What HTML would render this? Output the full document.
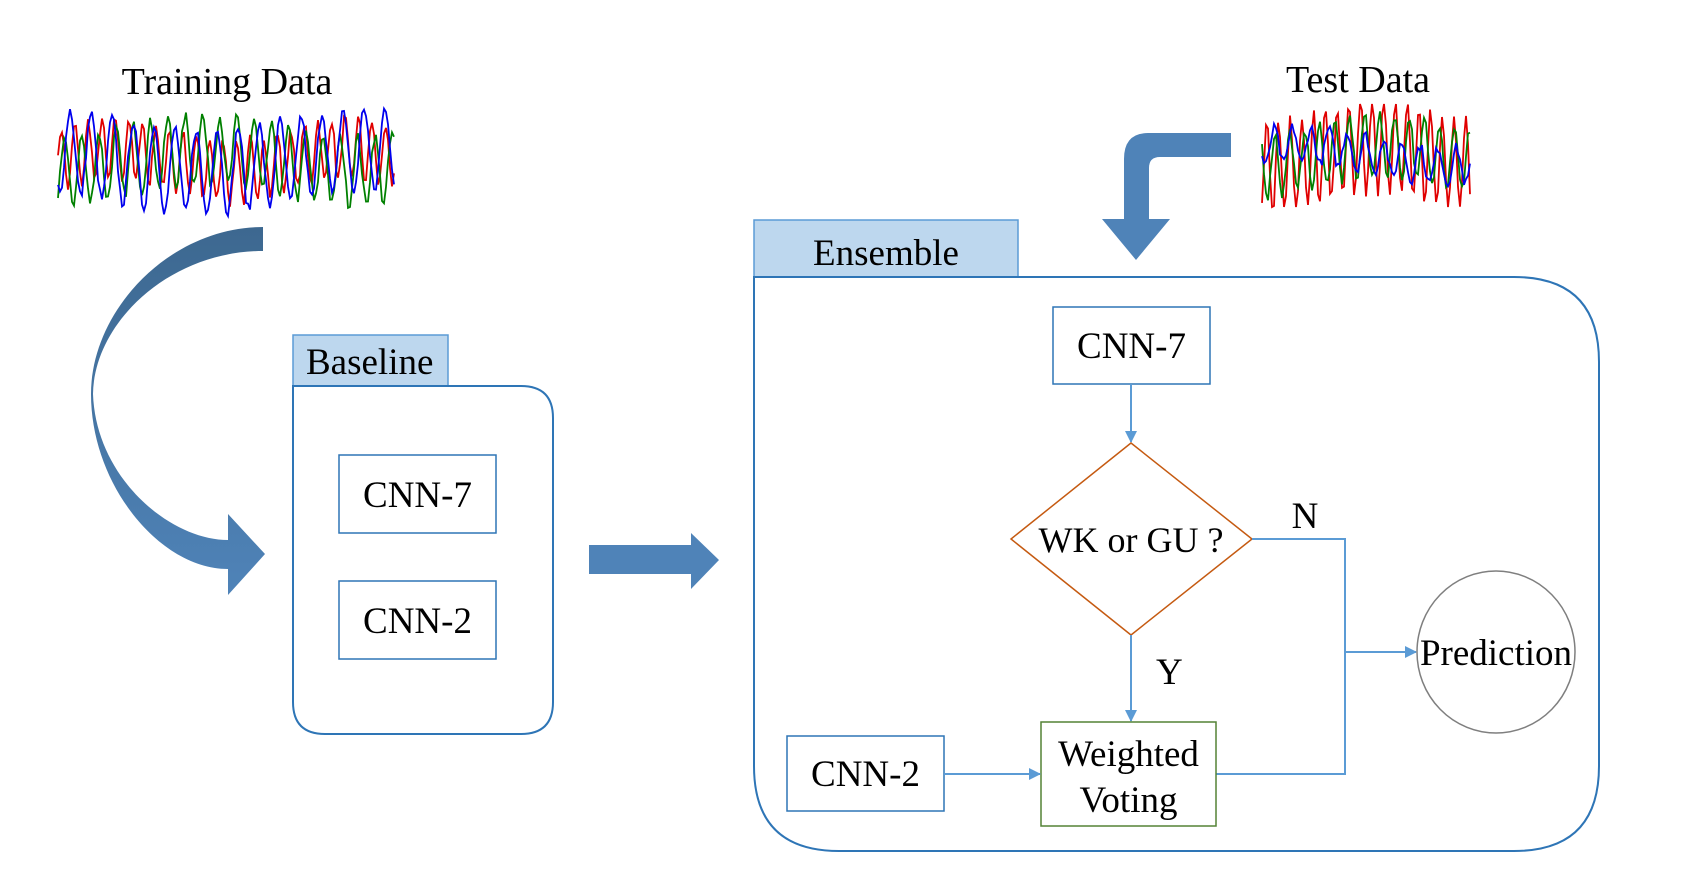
<!DOCTYPE html>
<html><head><meta charset="utf-8"><style>
html,body{margin:0;padding:0;background:#fff;}
svg{display:block;}
text{font-family:"Liberation Serif",serif;fill:#000;}
</style></head><body>
<svg width="1692" height="896" viewBox="0 0 1692 896" xmlns="http://www.w3.org/2000/svg">
<defs>
<linearGradient id="g1" x1="0" y1="0" x2="0" y2="1">
<stop offset="0" stop-color="#3d6890"/><stop offset="1" stop-color="#4f83b8"/>
</linearGradient>
<marker id="ah" markerWidth="12" markerHeight="12" refX="11" refY="6" orient="auto" markerUnits="userSpaceOnUse">
<path d="M0,0 L12,6 L0,12 Z" fill="#5b9bd5"/>
</marker>
</defs>

<text x="227" y="94" font-size="38" text-anchor="middle">Training Data</text>
<g id="sigA"></g>
<text x="1358" y="92" font-size="38" text-anchor="middle">Test Data</text>
<g id="sigB"></g>

<path d="M263,227 C170,227 91,310 91,394 C91,485 160,569 228,569 L228,595 L265,554 L228,514 L228,540 C170,540 96,478 93,394 C94,322 170,251 263,251 Z" fill="url(#g1)"/>

<rect x="293" y="335" width="155" height="51" fill="#bdd7ee" stroke="#5b9bd5" stroke-width="1.5"/>
<text x="306" y="374" font-size="37">Baseline</text>
<path d="M293,386 H521 Q553,386 553,418 V702 Q553,734 521,734 H325 Q293,734 293,702 Z" fill="none" stroke="#2e75b6" stroke-width="2"/>
<rect x="339" y="455" width="157" height="78" fill="#fff" stroke="#2e75b6" stroke-width="1.5"/>
<text x="417.5" y="507" font-size="37" text-anchor="middle">CNN-7</text>
<rect x="339" y="581" width="157" height="78" fill="#fff" stroke="#2e75b6" stroke-width="1.5"/>
<text x="417.5" y="633" font-size="37" text-anchor="middle">CNN-2</text>

<path d="M589,545 H691 V533 L719,560 L691,589 V574 H589 Z" fill="#4f83b8"/>

<rect x="754" y="220" width="264" height="57" fill="#bdd7ee" stroke="#5b9bd5" stroke-width="1.5"/>
<text x="886" y="265" font-size="37" text-anchor="middle">Ensemble</text>
<path d="M754,277 H1514 Q1599,277 1599,362 V766 Q1599,851 1514,851 H839 Q754,851 754,766 Z" fill="none" stroke="#2e75b6" stroke-width="2"/>

<path d="M1231,133 V157 H1160 Q1149,157 1149,168 V219 H1170 L1136,260 L1102,219 H1124 V159 Q1124,133 1148,133 Z" fill="#4f83b8"/>

<rect x="1053" y="307" width="157" height="77" fill="#fff" stroke="#2e75b6" stroke-width="1.5"/>
<text x="1131.5" y="358" font-size="37" text-anchor="middle">CNN-7</text>
<line x1="1131" y1="384" x2="1131" y2="442" stroke="#5b9bd5" stroke-width="2" marker-end="url(#ah)"/>
<path d="M1131,443 L1252,539 L1131,635 L1011,539 Z" fill="#fff" stroke="#c55a11" stroke-width="1.5"/>
<text x="1131" y="552" font-size="36" text-anchor="middle">WK or GU ?</text>
<line x1="1131" y1="635" x2="1131" y2="721" stroke="#5b9bd5" stroke-width="2" marker-end="url(#ah)"/>
<text x="1156" y="684" font-size="37">Y</text>
<polyline points="1252,539 1345,539 1345,774 1216,774" fill="none" stroke="#5b9bd5" stroke-width="2"/>
<text x="1305" y="528" font-size="37" text-anchor="middle">N</text>
<line x1="1345" y1="652" x2="1416" y2="652" stroke="#5b9bd5" stroke-width="2" marker-end="url(#ah)"/>
<ellipse cx="1496" cy="652" rx="79" ry="81" fill="#fff" stroke="#7f7f7f" stroke-width="1.5"/>
<text x="1496" y="665" font-size="37" text-anchor="middle">Prediction</text>
<rect x="1041" y="722" width="175" height="104" fill="#fff" stroke="#548235" stroke-width="1.5"/>
<text x="1128.5" y="766" font-size="37" text-anchor="middle">Weighted</text>
<text x="1128.5" y="812" font-size="37" text-anchor="middle">Voting</text>
<rect x="787" y="736" width="157" height="75" fill="#fff" stroke="#2e75b6" stroke-width="1.5"/>
<text x="865.5" y="786" font-size="37" text-anchor="middle">CNN-2</text>
<line x1="944" y1="774" x2="1040" y2="774" stroke="#5b9bd5" stroke-width="2" marker-end="url(#ah)"/>
</svg>
<script>
(function(){
var ns="http://www.w3.org/2000/svg";
var seed=7;function rnd(){seed=(seed*16807)%2147483647;return seed/2147483647;}
function sig(gid,x0,x1,y0,y1,period,amps){
 var g=document.getElementById(gid);
 var cols=["#e00000","#008000","#0000ee"];
 for(var c=0;c<3;c++){
  var pts=[],mid=(y0+y1)/2,h=(y1-y0)/2,ph=rnd()*6,per=period*(0.9+0.25*c);
  for(var x=x0;x<=x1;x+=2){
   var v=Math.sin((x-x0)/per*6.283+ph)*amps[c]+(rnd()-0.5)*0.2+Math.sin((x-x0)/(per*2.7)+ph*2)*0.2;
   v=Math.max(-1,Math.min(1,v));
   pts.push(x.toFixed(1)+","+(mid-v*h).toFixed(1));
  }
  var p=document.createElementNS(ns,"polyline");
  p.setAttribute("points",pts.join(" "));p.setAttribute("fill","none");
  p.setAttribute("stroke",cols[c]);p.setAttribute("stroke-width","1.8");
  g.appendChild(p);
 }
}
sig("sigA",58,395,104,216,15,[0.55,0.6,0.75]);
sig("sigB",1262,1471,104,207,13,[0.9,0.6,0.35]);
})();
</script>
</body></html>
